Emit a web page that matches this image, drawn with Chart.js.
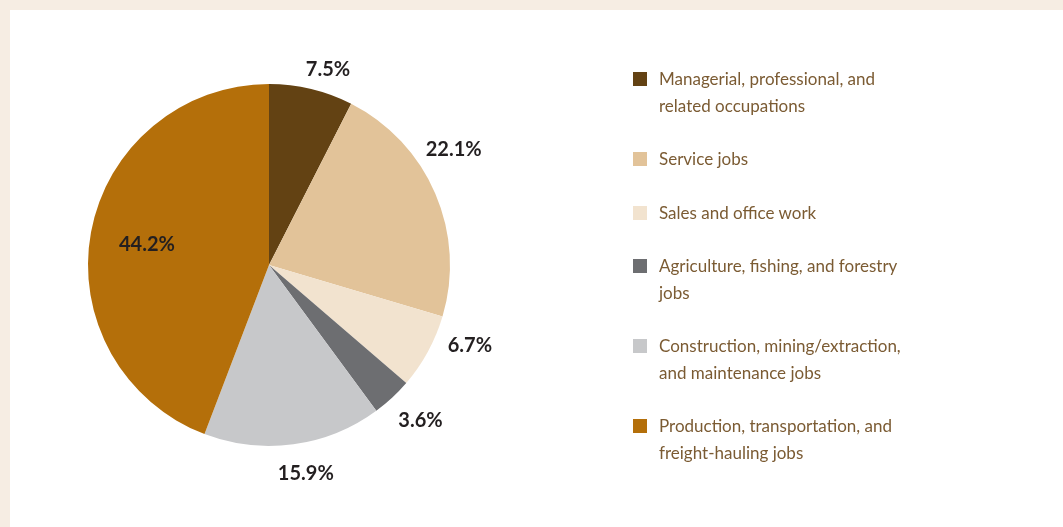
<!DOCTYPE html>
<html>
<head>
<meta charset="utf-8">
<script src="https://cdn.jsdelivr.net/npm/chart.js@4"></script>
<style>
  html, body { margin: 0; padding: 0; }
  body { width: 1063px; height: 527px; background: #f6ede3; overflow: hidden; position: relative; }
  .panel { position: absolute; left: 10px; top: 10px; right: 0; bottom: 0; background: #fff; }
  #wrap { position: absolute; left: 0; top: 0; width: 1063px; height: 527px; }
  .legend { position: absolute; left: 633px; top: 66px; font-family: Lato, sans-serif; font-size: 17px; color: #7b5b33; }
  .legend .item { position: relative; padding-left: 26px; line-height: 26.5px; margin-bottom: 27px; }
  .legend .sw { position: absolute; left: 0; top: 6px; width: 14px; height: 14px; }
</style>
</head>
<body>
<div class="panel"></div>
<div id="wrap"><canvas id="pie"></canvas></div>
<div class="legend" id="legend"></div>
<script>
/* --- Data --- */
const categories = [
  ['Managerial, professional, and', 'related occupations'],
  ['Service jobs'],
  ['Sales and office work'],
  ['Agriculture, fishing, and forestry', 'jobs'],
  ['Construction, mining/extraction,', 'and maintenance jobs'],
  ['Production, transportation, and', 'freight-hauling jobs']
];
const shares = [7.5, 22.1, 6.7, 3.6, 15.9, 44.2];
const colors = ['#634213', '#e2c399', '#f2e3cf', '#6d6e71', '#c7c8ca', '#b46f0a'];

/* --- Legend (HTML) --- */
const legendEl = document.getElementById('legend');
categories.forEach((lines, i) => {
  const it = document.createElement('div');
  it.className = 'item';
  it.innerHTML = `<span class="sw" style="background:${colors[i]}"></span>` + lines.join('<br>');
  legendEl.appendChild(it);
});

/* --- Percent labels --- */
// small hand nudges so labels sit where the original puts them
const labelNudge = [[9, 13], [-12, -31], [13, -22], [6, -1], [8, -4], [-1, 2]];

const pctLabels = {
  id: 'pctLabels',
  afterDatasetsDraw(chart) {
    const { ctx } = chart;
    const arcs = chart.getDatasetMeta(0).data;
    ctx.save();
    ctx.font = 'bold 20px Lato, sans-serif';
    ctx.fillStyle = '#231f20';
    ctx.textAlign = 'center';
    ctx.textBaseline = 'middle';
    arcs.forEach((arc, i) => {
      const mid = (arc.startAngle + arc.endAngle) / 2;
      const inside = shares[i] > 30;
      const r = inside ? arc.outerRadius * 0.68 : arc.outerRadius + 33;
      const x = arc.x + Math.cos(mid) * r + labelNudge[i][0];
      const y = arc.y + Math.sin(mid) * r + labelNudge[i][1];
      ctx.fillText(shares[i].toFixed(1) + '%', x, y);
    });
    ctx.restore();
  }
};

new Chart(document.getElementById('pie'), {
  type: 'pie',
  data: {
    labels: categories.map(l => l.join(' ')),
    datasets: [{
      data: shares,
      backgroundColor: colors,
      borderWidth: 0
    }]
  },
  options: {
    responsive: true,
    maintainAspectRatio: false,
    animation: false,
    layout: { padding: { left: 88, top: 84, right: 613, bottom: 81 } },
    plugins: {
      legend: { display: false },
      tooltip: { enabled: false }
    }
  },
  plugins: [pctLabels]
});
</script>
</body>
</html>
